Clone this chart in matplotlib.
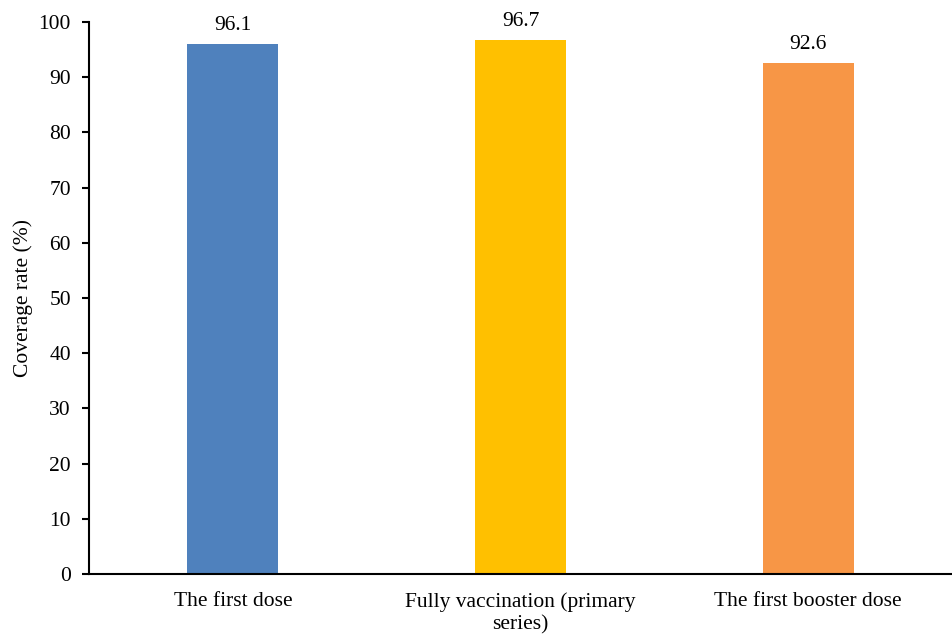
import matplotlib
matplotlib.use("Agg")
import matplotlib.pyplot as plt

categories = ["The first dose", "Fully vaccination (primary\nseries)", "The first booster dose"]
values = [96.1, 96.7, 92.6]
colors = ["#4F81BD", "#FFC000", "#F79646"]
yticks = list(range(0, 101, 10))

plt.rcParams['font.family'] = ['Liberation Serif', 'DejaVu Serif']

fig = plt.figure(figsize=(9.52, 6.41), dpi=100)
ax = fig.add_axes([0.0935, 0.1045, 0.9065, 0.861])
x = list(range(len(categories)))
bars = ax.bar(x, values, width=0.316, color=colors)
for xi, v in zip(x, values):
    ax.text(xi, v + 1.6, f"{v:.1f}", ha="center", va="bottom", fontsize=15.5)
ax.set_xlim(-0.5, 2.5)
ax.set_ylim(0, 100)
ax.set_yticks(yticks)
ax.set_xticks(x)
ax.set_xticklabels(categories, fontsize=15.5, linespacing=1.25)
ax.tick_params(axis='y', labelsize=15.5, length=5, width=1.5, direction='out', pad=8)
ax.tick_params(axis='x', length=0, pad=13)
for s in ['top', 'right']:
    ax.spines[s].set_visible(False)
for s in ['left', 'bottom']:
    ax.spines[s].set_linewidth(1.5)
ax.set_ylabel("Coverage rate (%)", fontsize=15.5, labelpad=4)
fig.savefig("out.png", dpi=100)
